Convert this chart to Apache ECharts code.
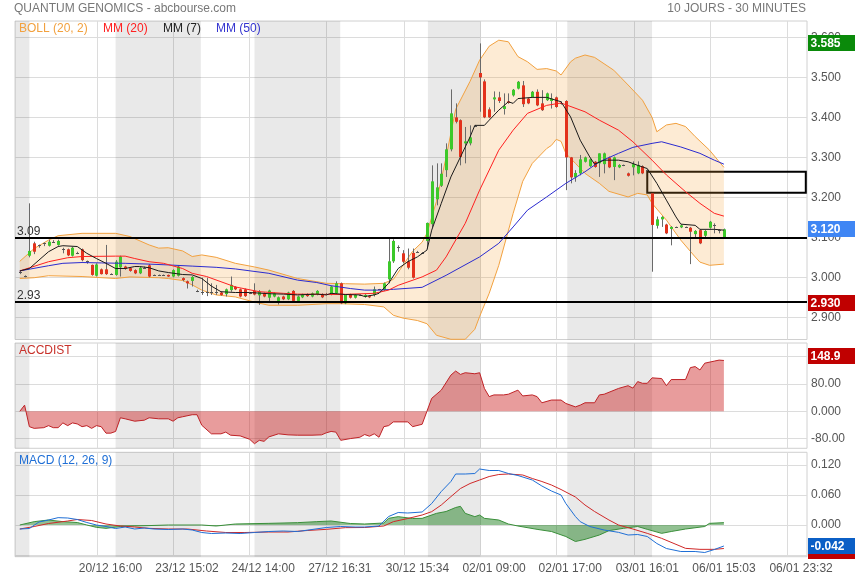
<!DOCTYPE html>
<html><head><meta charset="utf-8">
<script src="https://cdn.jsdelivr.net/npm/echarts@6/dist/echarts.min.js"></script>
<style>html,body{margin:0;padding:0;background:#fff}#c{width:855px;height:580px}</style>
</head><body><div id="c"></div>
<script>
// ---------- DATA ----------
const titleText = 'QUANTUM GENOMICS - abcbourse.com';
const periodText = '10 JOURS - 30 MINUTES';
const legendItems = ['BOLL (20, 2)', 'MM (20)', 'MM (7)', 'MM (50)'];
const accLabel = 'ACCDIST';
const macdLabel = 'MACD (12, 26, 9)';

// x tick positions (in bar units) and their labels
const tickPos = [16.1, 32.1, 48.0, 64.0, 80.2, 96.2, 112.1, 128.2, 144.2, 160.3];
const tickLabels = ['20/12 16:00', '23/12 15:02', '24/12 14:00', '27/12 16:31', '30/12 15:34',
  '02/01 09:00', '02/01 17:00', '03/01 16:01', '06/01 15:03', '06/01 23:32'];
// shaded trading days [fromBar, toBar]
const shadedDays = [[-1.0, 2], [20, 37.8], [49, 66.9], [85.2, 96.2], [114.3, 132]];

const priceTicks = [2.9, 3.0, 3.1, 3.2, 3.3, 3.4, 3.5, 3.6];
const accTicks = [-80, 0, 80, 160];
const macdTicks = [-0.06, 0, 0.06, 0.12];

// candles [open, high, low, close], one per 30-minute bar
const candles = [
[3.013,3.018,3.008,3.013],[3.003,3.005,3.000,3.003],
[3.054,3.185,3.050,3.066],[3.085,3.089,3.058,3.064],[3.080,3.082,3.074,3.080],[3.085,3.087,3.078,3.085],
[3.079,3.094,3.077,3.089],[3.089,3.093,3.086,3.089],[3.081,3.094,3.079,3.091],[3.072,3.074,3.060,3.072],
[3.070,3.072,3.053,3.055],[3.054,3.076,3.052,3.074],[3.062,3.064,3.058,3.062],[3.070,3.072,3.040,3.043],
[3.040,3.042,3.034,3.040],[3.031,3.032,3.004,3.006],[3.004,3.035,3.002,3.032],[3.020,3.022,3.007,3.008],
[3.020,3.081,3.006,3.008],[3.009,3.010,3.008,3.009],
[3.006,3.043,3.004,3.039],[3.025,3.054,3.002,3.052],[3.027,3.029,3.019,3.021],[3.023,3.025,3.014,3.016],
[3.018,3.020,3.008,3.010],[3.010,3.026,3.008,3.024],[3.024,3.027,3.021,3.024],[3.030,3.033,3.000,3.002],
[3.006,3.007,3.005,3.006],[3.006,3.007,3.005,3.006],[3.006,3.007,3.005,3.006],[3.006,3.007,3.001,3.002],
[3.002,3.020,3.000,3.018],[3.004,3.030,3.002,3.027],[2.998,3.000,2.990,2.993],[2.990,2.992,2.972,2.985],
[2.991,3.003,2.977,3.001],[2.966,2.969,2.963,2.966],
[2.964,2.999,2.956,2.964],[2.963,2.999,2.953,2.963],[2.963,2.985,2.956,2.963],[2.964,2.981,2.956,2.964],
[2.962,2.964,2.954,2.956],[2.958,2.972,2.952,2.970],[2.968,3.002,2.964,2.981],[2.976,2.978,2.968,2.970],
[2.970,2.972,2.950,2.952],[2.970,2.972,2.951,2.953],[2.960,2.962,2.958,2.960],
[2.966,2.985,2.955,2.957],[2.955,2.968,2.931,2.964],[2.960,2.962,2.950,2.952],[2.949,2.969,2.939,2.967],
[2.952,2.962,2.950,2.960],[2.941,2.952,2.932,2.950],[2.952,2.954,2.943,2.945],[2.945,2.964,2.943,2.962],
[2.966,2.968,2.939,2.941],[2.941,2.954,2.939,2.952],[2.950,2.959,2.948,2.957],[2.958,2.960,2.951,2.953],
[2.952,2.962,2.950,2.960],[2.957,2.968,2.955,2.966],[2.958,2.960,2.948,2.950],[2.958,2.961,2.955,2.958],
[2.957,2.979,2.955,2.977],[2.960,2.990,2.958,2.985],
[2.985,2.987,2.933,2.935],[2.935,2.958,2.933,2.956],[2.957,2.959,2.947,2.949],[2.949,2.958,2.947,2.956],
[2.956,2.957,2.955,2.956],[2.951,2.958,2.949,2.956],[2.953,2.955,2.948,2.950],[2.956,2.977,2.952,2.970],
[2.970,2.971,2.969,2.970],[2.968,2.987,2.966,2.985],[2.995,3.097,2.985,3.040],[3.040,3.095,3.036,3.091],
[3.076,3.080,3.064,3.076],[3.060,3.068,3.035,3.039],[3.040,3.072,3.020,3.024],[3.061,3.072,2.997,2.999],
[3.064,3.066,3.062,3.064],[3.061,3.063,3.059,3.061],
[3.091,3.137,3.072,3.136],[3.133,3.280,3.125,3.240],[3.195,3.285,3.180,3.225],[3.229,3.285,3.226,3.259],
[3.268,3.335,3.251,3.320],[3.320,3.470,3.315,3.410],[3.400,3.435,3.385,3.389],[3.393,3.395,3.280,3.301],
[3.335,3.376,3.285,3.340],[3.335,3.380,3.330,3.350],[3.379,3.381,3.377,3.379],
[3.511,3.585,3.414,3.500],[3.490,3.495,3.398,3.400],[3.420,3.425,3.398,3.400],[3.445,3.465,3.414,3.450],
[3.450,3.464,3.436,3.441],[3.421,3.460,3.407,3.428],[3.440,3.460,3.434,3.436],[3.455,3.471,3.452,3.469],
[3.472,3.491,3.470,3.489],[3.480,3.491,3.426,3.433],[3.447,3.449,3.433,3.435],[3.451,3.466,3.449,3.464],
[3.464,3.470,3.428,3.430],[3.435,3.468,3.416,3.418],[3.443,3.462,3.441,3.460],[3.441,3.460,3.422,3.447],
[3.450,3.452,3.424,3.426],[3.436,3.440,3.432,3.436],
[3.441,3.443,3.218,3.300],[3.300,3.301,3.235,3.250],[3.250,3.268,3.239,3.261],[3.260,3.306,3.255,3.295],
[3.289,3.302,3.287,3.300],[3.278,3.297,3.276,3.295],[3.289,3.291,3.274,3.276],[3.285,3.310,3.251,3.310],
[3.283,3.312,3.260,3.310],[3.300,3.302,3.273,3.275],[3.276,3.302,3.243,3.300],[3.275,3.283,3.273,3.281],
[3.280,3.282,3.278,3.280],[3.260,3.262,3.252,3.254],[3.275,3.290,3.255,3.283],[3.260,3.290,3.258,3.281],
[3.278,3.280,3.258,3.260],[3.268,3.270,3.266,3.268],
[3.210,3.210,3.014,3.131],[3.129,3.152,3.122,3.145],[3.145,3.153,3.126,3.151],[3.132,3.134,3.108,3.110],
[3.121,3.128,3.080,3.126],[3.126,3.127,3.125,3.126],[3.125,3.132,3.123,3.130],[3.126,3.127,3.125,3.126],
[3.124,3.126,3.033,3.114],[3.108,3.118,3.100,3.116],[3.118,3.120,3.083,3.085],[3.104,3.118,3.100,3.116],
[3.124,3.141,3.122,3.139],[3.130,3.135,3.110,3.130],[3.118,3.120,3.110,3.118],[3.100,3.122,3.098,3.120]
];

// indicators: [bar, value]
const bollUpper = [[0,3.040],[3,3.072],[6,3.093],[8,3.104],[13,3.110],[20,3.110],[23,3.102],[27,3.081],[29,3.073],
[31,3.074],[34,3.066],[36,3.052],[38,3.056],[41,3.050],[45,3.035],[49,3.026],[52,3.018],[58,2.997],[64,2.985],
[68,2.984],[72,2.983],[76,2.985],[78,2.995],[80,3.030],[82,3.065],[84,3.088],[85,3.110],[87,3.190],[89,3.300],
[91,3.420],[94,3.490],[96,3.543],[98,3.578],[100,3.593],[102,3.589],[104,3.552],[106,3.539],[108,3.520],
[110,3.522],[112,3.516],[113,3.506],[115,3.539],[116,3.548],[118,3.556],[120,3.550],[124,3.518],[127,3.481],
[130,3.443],[132,3.400],[133,3.364],[135,3.381],[137,3.385],[139,3.377],[141,3.352],[144,3.318],[147,3.275]];
const bollLower = [[0,2.997],[3,2.999],[6,3.004],[13,3.002],[20,2.997],[23,3.001],[29,2.999],[31,2.997],[34,2.992],
[36,2.981],[38,2.968],[41,2.956],[45,2.951],[49,2.938],[52,2.930],[58,2.930],[64,2.934],[67,2.934],[72,2.932],
[76,2.926],[78,2.905],[80,2.898],[83,2.892],[85,2.884],[87,2.855],[90,2.845],[93,2.845],[95,2.870],[96,2.902],
[98,2.960],[100,3.030],[103,3.160],[105,3.240],[107,3.285],[110,3.322],[111,3.330],[112,3.345],[113,3.340],
[114,3.310],[116,3.285],[118,3.260],[121,3.235],[123,3.215],[127,3.201],[129,3.210],[131,3.206],[132,3.185],
[135,3.143],[138,3.093],[141,3.051],[142,3.038],[144,3.030],[147,3.033]];
const mm7 = [[0,3.016],[2,3.022],[4,3.043],[6,3.064],[8,3.077],[9,3.079],[12,3.077],[14,3.060],[16,3.047],[18,3.035],
[20,3.022],[22,3.022],[24,3.027],[25,3.027],[27,3.024],[29,3.016],[31,3.012],[34,3.007],[36,3.006],[38,2.997],
[40,2.978],[42,2.964],[45,2.962],[48,2.962],[52,2.959],[55,2.958],[58,2.956],[62,2.958],[64,2.956],[65,2.960],
[68,2.957],[71,2.956],[72,2.952],[74,2.956],[75,2.960],[77,2.985],[79,3.022],[81,3.039],[83,3.051],[85,3.068],
[86,3.118],[88,3.185],[90,3.251],[92,3.301],[94,3.351],[95,3.380],[97,3.380],[98,3.393],[100,3.418],[102,3.439],
[103,3.435],[104,3.447],[107,3.450],[110,3.450],[113,3.439],[115,3.401],[117,3.343],[119,3.301],[120,3.283],
[122,3.293],[125,3.293],[127,3.289],[129,3.280],[131,3.272],[133,3.235],[135,3.193],[137,3.151],[138,3.133],
[141,3.130],[142,3.120],[145,3.120],[147,3.118]];
const mm20 = [[0,3.016],[6,3.039],[10,3.049],[13,3.052],[20,3.053],[22,3.053],[24,3.047],[27,3.039],[30,3.035],
[34,3.022],[36,3.010],[39,3.002],[45,2.976],[50,2.964],[55,2.960],[58,2.958],[67,2.957],[74,2.960],[77,2.968],
[79,2.980],[84,3.001],[87,3.018],[89,3.051],[93,3.135],[96,3.218],[100,3.318],[103,3.368],[106,3.410],[110,3.430],
[113,3.436],[118,3.414],[121,3.393],[125,3.368],[128,3.339],[132,3.293],[135,3.256],[139,3.214],[142,3.185],
[145,3.160],[147,3.153]];
const mm50 = [[0,3.016],[6,3.029],[9,3.035],[13,3.037],[17,3.036],[22,3.035],[27,3.033],[31,3.031],[36,3.028],
[41,3.025],[45,3.021],[52,3.010],[58,2.993],[62,2.987],[65,2.979],[69,2.972],[72,2.968],[75,2.968],[78,2.970],
[84,2.975],[89,3.005],[96,3.051],[100,3.085],[103,3.126],[106,3.168],[110,3.201],[114,3.235],[118,3.264],
[121,3.289],[125,3.310],[128,3.325],[132,3.335],[134,3.339],[138,3.326],[142,3.310],[145,3.293],[147,3.283]];
// support / resistance lines and zone
const hLines = [3.095, 2.936];
const hLineLabels = ['3.09', '2.93'];
const hLineBadge = '2.930';
const zoneBox = {fromBar: 131, top: 3.264, bottom: 3.2115, toBar: 164.1};

const accdist = [[0,0],[1,18],[2,-45],[3,-50],[5,-48],[6,-42],[7,-48],[8,-48],[9,-34],[10,-42],[11,-34],[12,-37],
[13,-45],[14,-42],[15,-50],[16,-42],[17,-45],[18,-64],[19,-64],[20,-59],[21,-19],[22,-22],[24,-29],[26,-26],
[27,-19],[29,-22],[31,-22],[32,-29],[33,-19],[34,-16],[36,-10],[37,-10],[38,-41],[40,-66],[42,-66],[43,-61],
[44,-70],[46,-72],[48,-82],[49,-95],[50,-85],[51,-88],[52,-75],[54,-66],[56,-69],[58,-70],[61,-70],[63,-69],
[64,-63],[65,-59],[66,-61],[67,-85],[69,-80],[71,-76],[72,-68],[73,-73],[74,-66],[75,-76],[76,-45],[77,-42],
[78,-31],[81,-31],[82,-45],[84,-38],[85,0],[86,38],[88,62],[90,106],[91,118],[92,108],[93,113],[95,110],[96,113],
[97,67],[98,43],[99,48],[101,48],[102,50],[104,62],[105,45],[107,48],[108,43],[109,25],[111,33],[113,33],[114,23],
[116,13],[117,18],[118,25],[120,25],[121,48],[122,50],[125,67],[127,75],[128,68],[129,87],[130,82],[131,82],
[132,98],[134,96],[135,75],[136,93],[139,93],[140,128],[141,131],[142,121],[143,141],[145,147],[146,150],[147,148.9]];
const macdLine = [[0,-0.008],[2,-0.007],[4,0.006],[6,0.010],[8,0.0147],[10,0.014],[12,0.011],[14,0.005],[16,0.000],
[18,-0.003],[20,-0.007],[22,-0.004],[24,-0.008],[26,-0.006],[28,-0.008],[31,-0.009],[34,-0.008],[36,-0.010],
[38,-0.015],[40,-0.017],[43,-0.016],[46,-0.017],[49,-0.015],[52,-0.013],[55,-0.012],[58,-0.013],[61,-0.009],
[64,-0.005],[67,-0.003],[70,-0.004],[72,-0.004],[75,-0.002],[77,0.017],[79,0.025],[81,0.024],[84,0.026],
[86,0.043],[88,0.067],[90,0.087],[91,0.102],[93,0.102],[95,0.103],[96,0.112],[98,0.109],[100,0.109],[102,0.103],
[104,0.099],[107,0.090],[109,0.078],[111,0.068],[113,0.060],[114,0.043],[116,0.017],[117,0.0067],[119,-0.003],
[122,-0.010],[125,-0.0147],[127,-0.020],[129,-0.019],[131,-0.023],[133,-0.037],[135,-0.047],[138,-0.053],
[141,-0.053],[143,-0.055],[145,-0.049],[147,-0.042]];
const signalLine = [[0,-0.008],[3,-0.003],[6,0.003],[10,0.008],[12,0.011],[15,0.009],[18,0.002],[21,-0.002],
[24,-0.004],[27,-0.0067],[31,-0.008],[35,-0.008],[39,-0.012],[43,-0.015],[47,-0.015],[52,-0.014],[56,-0.014],
[60,-0.011],[64,-0.0087],[68,-0.0053],[72,-0.005],[76,-0.002],[78,0.0067],[81,0.013],[84,0.020],[86,0.0267],
[88,0.040],[90,0.0567],[92,0.073],[94,0.083],[96,0.090],[98,0.097],[100,0.101],[102,0.102],[105,0.100],
[107,0.093],[109,0.087],[111,0.080],[113,0.071],[116,0.056],[118,0.040],[120,0.027],[123,0.010],[125,0.000],
[128,-0.008],[131,-0.0167],[134,-0.0267],[137,-0.0387],[139,-0.0467],[142,-0.0487],[145,-0.0487],[147,-0.047]];
const macdHist = [[0,0],[3,0.0067],[6,0.010],[9,0.0067],[12,0.005],[14,0],[16,-0.0047],[18,-0.0067],[21,-0.003],
[24,-0.002],[31,0],[38,0],[41,-0.002],[45,0.002],[52,0.0033],[58,0.0047],[62,0.0067],[65,0.008],[69,0.003],
[72,0.002],[76,0.004],[77,0.0133],[79,0.0167],[82,0.013],[84,0.0133],[87,0.0233],[89,0.027],[91,0.035],
[92,0.0373],[93,0.0233],[95,0.0167],[96,0.020],[97,0.0133],[100,0.010],[102,0.002],[104,-0.002],[108,-0.0087],
[111,-0.013],[114,-0.023],[116,-0.033],[118,-0.0287],[121,-0.020],[123,-0.0113],[126,-0.0067],[129,-0.003],
[131,-0.0087],[134,-0.0167],[136,-0.013],[139,-0.008],[143,-0.003],[144,0.0033],[147,0.0047]];

// ---------- CHART ----------
const FONT = '"Liberation Sans", Arial, sans-serif';
const X_MIN = -1.0, X_MAX = 164.35;
const chart = echarts.init(document.getElementById('c'), null, {renderer: 'canvas'});
const gridDefs = [
  {top: 21, height: 318.5},
  {top: 343, height: 105.3},
  {top: 452.3, height: 104.4}
];
const yRanges = [[2.8445, 3.641], [-108.4, 200.1], [-0.0634, 0.1454]];
const yTicks = [priceTicks, accTicks, macdTicks];
const yFmt = [v => v.toFixed(3), v => v.toPrecision(4), v => v.toFixed(3)];
const GRIDLINE = '#dcdcdc';

function nearestLabel(v) {
  let b = 0;
  for (let k = 1; k < tickPos.length; k++) if (Math.abs(tickPos[k] - v) < Math.abs(tickPos[b] - v)) b = k;
  return tickLabels[b];
}

const grid = gridDefs.map(g => ({left: 15, right: 48, top: g.top, height: g.height, show: true,
  borderColor: '#d0d0d0', borderWidth: 1, backgroundColor: 'transparent', outerBoundsMode: 'none', containLabel: false}));
const xAxis = gridDefs.map((g, k) => ({
  type: 'value', gridIndex: k, min: X_MIN, max: X_MAX,
  axisLine: {show: false}, axisTick: {show: false, customValues: tickPos},
  splitLine: {show: true, lineStyle: {color: GRIDLINE, width: 1}},
  axisLabel: k === 2 ? {show: true, customValues: tickPos, formatter: nearestLabel, color: '#555',
    fontFamily: FONT, fontSize: 12, margin: 6, padding: [0, 0, 0, 27], hideOverlap: false} : {show: false}
}));
const yAxis = gridDefs.map((g, k) => ({
  type: 'value', gridIndex: k, position: 'right', min: yRanges[k][0], max: yRanges[k][1],
  axisLine: {show: false}, axisTick: {show: false, customValues: yTicks[k]},
  splitLine: {show: true, lineStyle: {color: GRIDLINE, width: 1}},
  axisLabel: {show: true, customValues: yTicks[k], formatter: yFmt[k], color: '#555', fontFamily: FONT,
    fontSize: 12, margin: 4, padding: [0, 0, 6, 0], hideOverlap: false}
}));

const series = [];
// day shading in each panel
gridDefs.forEach((g, k) => {
  series.push({type: 'line', xAxisIndex: k, yAxisIndex: k, data: [], silent: true, z: 1,
    markArea: {silent: true, itemStyle: {color: 'rgba(0,0,0,0.085)'},
      data: shadedDays.map(d => [{xAxis: d[0]}, {xAxis: d[1]}])}});
});
// bollinger fill
series.push({type: 'custom', xAxisIndex: 0, yAxisIndex: 0, data: [[0, 3]], silent: true, z: 2,
  renderItem: (params, api) => {
    const pts = [];
    bollUpper.forEach(p => pts.push(api.coord(p)));
    for (let k = bollLower.length - 1; k >= 0; k--) pts.push(api.coord(bollLower[k]));
    const cs = params.coordSys;
    return {type: 'group', clipPath: {type: 'rect', shape: {x: cs.x, y: cs.y, width: cs.width, height: cs.height}},
      children: [{type: 'polygon', shape: {points: pts}, style: {fill: 'rgba(245,160,50,0.21)'}}]};
  }});
const lineS = (data, color, z, k = 0, w = 1) => ({type: 'line', xAxisIndex: k, yAxisIndex: k, data, symbol: 'none',
  silent: true, z, lineStyle: {color, width: w}, clip: true});
series.push(lineS(bollUpper, '#f2a13f', 3));
series.push(lineS(bollLower, '#f2a13f', 3));
// candles
series.push({type: 'custom', xAxisIndex: 0, yAxisIndex: 0, silent: true, z: 4,
  dimensions: ['i', 'o', 'h', 'l', 'c'], encode: {x: 0, y: [1, 2, 3, 4]},
  data: candles.map((c, i) => [i, c[0], c[1], c[2], c[3]]),
  renderItem: (params, api) => {
    const i = api.value(0), o = api.value(1), h = api.value(2), l = api.value(3), c = api.value(4);
    const pH = api.coord([i, h]), pL = api.coord([i, l]);
    const yO = api.coord([i, o])[1], yC = api.coord([i, c])[1];
    const cx = Math.round(pH[0]);
    const flat = Math.abs(c - o) < 0.0005;
    const up = c > o;
    const top = Math.min(yO, yC), bot = Math.max(yO, yC);
    return {type: 'group', children: [
      {type: 'line', shape: {x1: cx + 0.5, y1: pH[1], x2: cx + 0.5, y2: pL[1]}, style: {stroke: '#6a6a6a', lineWidth: 1}},
      {type: 'rect', shape: {x: cx - 1, y: flat ? Math.round(top) : top, width: 3, height: flat ? 1 : Math.max(1, bot - top)},
        style: {fill: flat ? '#555' : (up ? '#3cc92a' : '#e3321c')}}
    ]};
  }});
series.push(lineS(mm50, '#2b2bd0', 5));
series.push(lineS(mm20, '#ff2020', 5));
series.push(lineS(mm7, '#1a1a1a', 6));
// support lines + zone
series.push({type: 'line', xAxisIndex: 0, yAxisIndex: 0, data: [], silent: true, z: 8,
  markLine: {silent: true, symbol: 'none', lineStyle: {color: '#000', width: 2, type: 'solid'},
    label: {show: true, position: 'insideStartTop', distance: [2, 0], color: '#333', fontFamily: FONT, fontSize: 12,
      formatter: p => hLineLabels[p.dataIndex]},
    data: hLines.map(v => ({yAxis: v}))},
  markArea: {silent: true, itemStyle: {color: 'rgba(0,0,0,0)', borderColor: '#000', borderWidth: 2},
    data: [[{xAxis: zoneBox.fromBar, yAxis: zoneBox.top}, {xAxis: zoneBox.toBar, yAxis: zoneBox.bottom}]]}});
// accdist
series.push({type: 'line', xAxisIndex: 1, yAxisIndex: 1, data: accdist, symbol: 'none', silent: true, z: 3,
  lineStyle: {color: '#bf2226', width: 1}, areaStyle: {color: 'rgba(200,20,20,0.6)'}});
// macd
series.push({type: 'line', xAxisIndex: 2, yAxisIndex: 2, data: macdHist, symbol: 'none', silent: true, z: 3,
  lineStyle: {color: '#3a8f3a', width: 1}, areaStyle: {color: 'rgba(25,125,25,0.68)'}});
series.push(lineS(signalLine, '#d02828', 4, 2));
series.push(lineS(macdLine, '#1f6fd6', 5, 2));

chart.setOption({animation: false, backgroundColor: '#fff', grid, xAxis, yAxis, series});

// ---------- TEXTS AND VALUE BADGES ----------
const gfx = [];
const txt = (x, y, text, fill, align = 'left') => gfx.push({type: 'text', x, y, z: 50, silent: true,
  style: {text, fill, font: '12px ' + FONT, textAlign: align, textVerticalAlign: 'middle'}});
txt(14, 9, titleText, '#777');
txt(806, 9, periodText, '#777', 'right');
const legendColors = ['#f2a13f', '#ff2020', '#222', '#3535d0'];
const legendX = [19, 103, 163, 216];
legendItems.forEach((t, k) => txt(legendX[k], 29, t, legendColors[k]));
txt(19, 351, accLabel, '#c8312a');
txt(19, 461, macdLabel, '#1f6fd6');

let bz = 60;
const badge = (axisIdx, value, text, color, dy = 0) => {
  const y = chart.convertToPixel({yAxisIndex: axisIdx}, value) + dy;
  bz += 2;
  gfx.push({type: 'rect', x: 808, y: Math.round(y - 8), z: bz, silent: true, shape: {width: 47, height: 16}, style: {fill: color}});
  if (text) gfx.push({type: 'text', x: 810.5, y: Math.round(y) + 0.5, z: bz + 1, silent: true,
    style: {text, fill: '#fff', font: 'bold 12px ' + FONT, textVerticalAlign: 'middle'}});
};
const highMax = Math.max(...candles.map(c => c[1]));
const lastClose = candles[candles.length - 1][3];
badge(0, highMax, highMax.toFixed(3), '#0a8a0a');
badge(0, lastClose, lastClose.toFixed(3), '#3f86f4');
badge(0, hLines[1], hLineBadge, '#c00000');
const accLast = accdist[accdist.length - 1][1];
badge(1, accLast, accLast.toPrecision(4), '#c00000', -4);
const sigLast = signalLine[signalLine.length - 1][1];
const macdLast = macdLine[macdLine.length - 1][1];
badge(2, sigLast, '', '#c00000', 2);   // signal badge, hidden under the MACD badge
badge(2, macdLast, macdLast.toFixed(3), '#0b5fc6');
chart.setOption({graphic: gfx});
</script></body></html>
